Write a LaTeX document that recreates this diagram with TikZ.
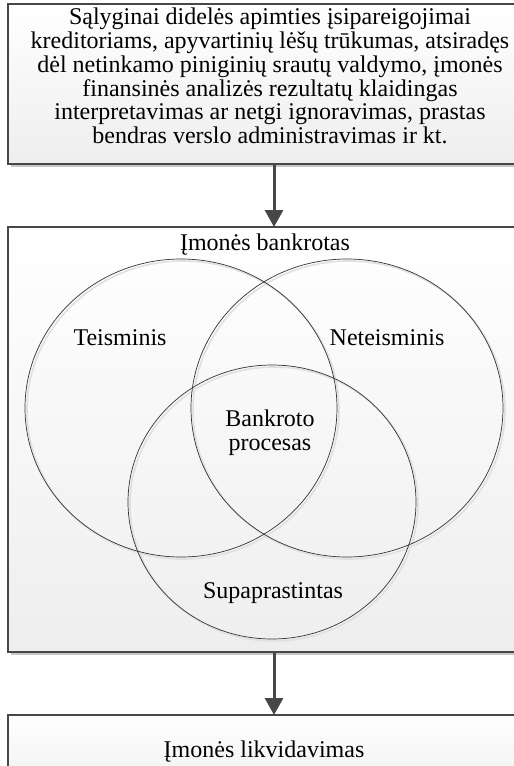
\documentclass[tikz,border=0pt]{standalone}
\usepackage{fontspec}
\setmainfont{Liberation Serif}
\usetikzlibrary{arrows.meta}
\definecolor{edge}{HTML}{474747}
\definecolor{shade}{HTML}{C8C8C8}
\definecolor{boxbot}{HTML}{EEEEEE}
\tikzset{
  x=1pt, y=-1pt,
  panel/.style={draw=edge, line width=1.2pt, top color=white, bottom color=boxbot},
  panelshadow/.style={fill=shade, draw=none},
  ring/.style={draw=black!80, line width=0.7pt},
  ringshadow/.style={draw=black!12, line width=1.6pt},
  lbl/.style={font=\fontsize{24}{23.7}\selectfont, align=center, inner sep=0pt},
  flow/.style={draw=edge, line width=3pt, -{Triangle[length=17pt,width=18pt]}},
}
\begin{document}
\begin{tikzpicture}
\useasboundingbox (0,0) rectangle (514,766);
\clip (0,0) rectangle (514,766);
\fill[white] (0,0) rectangle (514,766);
% shadows
\path[panelshadow] (11,7) rectangle (560,167);
\path[panelshadow] (11,230) rectangle (560,655);
% boxes
\path[panel] (8,4) rectangle (560,164);
\coordinate (tb) at (274,164);
\path[panel] (8,227) rectangle (560,652);
\coordinate (mt) at (274,227);
\coordinate (mb) at (274,652);
\path[panel] (8,715) rectangle (560,800);
\coordinate (bt) at (274,715);
% top text
\node[lbl] (toptext) at (270,76) {Sąlyginai didelės apimties įsipareigojimai\\kreditoriams, apyvartinių lėšų trūkumas, atsiradęs\\dėl netinkamo piniginių srautų valdymo, įmonės\\finansinės analizės rezultatų klaidingas\\interpretavimas ar netgi ignoravimas, prastas\\bendras verslo administravimas ir kt.};
% arrows
\draw[flow] (tb) -- (mt);
\draw[flow] (mb) -- (bt);
% circle shadows
\draw[ringshadow] (183,410) ellipse [x radius=156, y radius=149];
\draw[ringshadow] (349,410) ellipse [x radius=156, y radius=149];
\draw[ringshadow] (274,504) ellipse [x radius=144, y radius=137];
% circles
\draw[ring] (181,408) ellipse [x radius=156, y radius=149];
\draw[ring] (347,408) ellipse [x radius=156, y radius=149];
\draw[ring] (272,502) ellipse [x radius=144, y radius=137];
% labels
\node[lbl] (bank) at (265,245) {Įmonės bankrotas};
\node[lbl] (teis) at (120,338) {Teisminis};
\node[lbl] (nete) at (387,338) {Neteisminis};
\node[lbl] (proc) at (270,433) {Bankroto\\procesas};
\node[lbl] (supa) at (273,593) {Supaprastintas};
\node[lbl] (likv) at (264,752) {Įmonės likvidavimas};
\end{tikzpicture}
\end{document}
